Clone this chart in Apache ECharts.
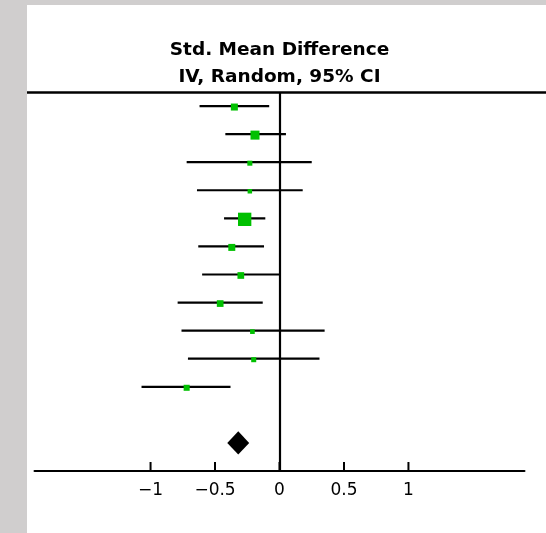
<!DOCTYPE html>
<html><head><meta charset="utf-8">
<script src="https://cdn.jsdelivr.net/npm/echarts@6/dist/echarts.min.js"></script>
<style>
html,body{margin:0;padding:0;background:#d0cece;width:546px;height:533px;overflow:hidden}
#chart{position:absolute;left:27px;top:5px;width:519px;height:528px;background:#ffffff}
</style></head><body><div id="chart"></div>
<script>
// Study rows (top to bottom)
const rows      = [0, 1, 2, 3, 4, 5, 6, 7, 8, 9, 10];
const estimates = [-0.35, -0.19, -0.23, -0.23, -0.27, -0.37, -0.30, -0.46, -0.21, -0.20, -0.72];
const lower     = [-0.62, -0.42, -0.72, -0.64, -0.43, -0.63, -0.60, -0.79, -0.76, -0.71, -1.07];
const upper     = [-0.08,  0.05,  0.25,  0.18, -0.11, -0.12,  0.00, -0.13,  0.35,  0.31, -0.38];
const weights   = [8.5, 14.1, 4.4, 3.5, 30.8, 8.5, 7.8, 7.8, 3.8, 4.4, 6.3];
// Pooled estimate (diamond)
const pooledRow = [12];
const pooledEst = [-0.32];
const pooledLo  = [-0.405];
const pooledHi  = [-0.235];
// Axis ticks
const xTicks = [-1, -0.5, 0, 0.5, 1];
const titleLines = ['Std. Mean Difference', 'IV, Random, 95% CI'];

const chart = echarts.init(document.getElementById('chart'), null, {renderer: 'canvas'});
const FONT = 'DejaVu Sans';
const AXIS_ROW = 13; // bottom of the plotting area (y axis max)

const ciData = rows.map(i => [lower[i], upper[i], i]);
const ptData = rows.map(i => [estimates[i], i, weights[i]]);
const dmData = pooledRow.map((r, k) => [pooledLo[k], pooledEst[k], pooledHi[k], r]);
const tickData = xTicks.map(t => [t, AXIS_ROW - 0.5]);

chart.setOption({
  animation: false,
  backgroundColor: '#ffffff',
  graphic: [
    {type: 'text', x: 252.5, y: 45.5, style: {text: titleLines[0], align: 'center', verticalAlign: 'middle', fontFamily: FONT, fontWeight: 'bold', fontSize: 18.5, fill: '#000'}},
    {type: 'text', x: 252.5, y: 72, style: {text: titleLines[1], align: 'center', verticalAlign: 'middle', fontFamily: FONT, fontWeight: 'bold', fontSize: 18.5, fill: '#000'}}
  ],
  grid: [
    {left: 7.5, right: 21.5, top: 87, bottom: 62},
    {left: 0, right: 0, top: 87, height: 20}
  ],
  xAxis: [
    {
      type: 'value', gridIndex: 0, min: -1.9, max: 1.9,
      splitLine: {show: false},
      axisLine: {show: true, onZero: false, lineStyle: {color: '#000', width: 2}},
      axisTick: {show: false},
      axisLabel: {
        show: true, margin: 11, color: '#000', fontFamily: FONT, fontSize: 17,
        customValues: xTicks.slice(),
        formatter: v => String(v).replace('-', '\u2212')
      }
    },
    {
      type: 'value', gridIndex: 1, position: 'top', min: 0, max: 1,
      splitLine: {show: false}, axisTick: {show: false}, axisLabel: {show: false},
      axisLine: {show: true, onZero: false, lineStyle: {color: '#000', width: 2.5}}
    }
  ],
  yAxis: [
    {type: 'value', gridIndex: 0, min: -0.5, max: AXIS_ROW, inverse: true, show: false},
    {type: 'value', gridIndex: 1, min: 0, max: 1, show: false}
  ],
  series: [
    {
      type: 'custom', xAxisIndex: 0, yAxisIndex: 0,
      data: ciData,
      encode: {x: [0, 1], y: 2},
      renderItem: (params, api) => {
        const a = api.coord([api.value(0), api.value(2)]);
        const b = api.coord([api.value(1), api.value(2)]);
        return {type: 'line', shape: {x1: a[0], y1: a[1], x2: b[0], y2: b[1]}, style: {stroke: '#000', lineWidth: 2.2}};
      },
      markLine: {
        silent: true, symbol: 'none', label: {show: false},
        lineStyle: {color: '#000', width: 2.2, type: 'solid'},
        data: [{xAxis: 0}]
      },
      z: 2
    },
    {
      // axis ticks: anchored inside the plot, drawn up from the axis line
      type: 'custom', xAxisIndex: 0, yAxisIndex: 0,
      data: tickData,
      encode: {x: 0, y: 1},
      clip: false,
      silent: true,
      renderItem: (params, api) => {
        const base = api.coord([api.value(0), AXIS_ROW]);
        return {type: 'rect', shape: {x: base[0] - 1, y: base[1] - 9, width: 2, height: 10}, style: {fill: '#000'}};
      },
      z: 10
    },
    {
      type: 'scatter', xAxisIndex: 0, yAxisIndex: 0,
      data: ptData,
      symbol: 'rect',
      symbolOffset: [0, 1],
      symbolSize: v => Math.sqrt(v[2]) * 2.4,
      itemStyle: {color: '#00c000', opacity: 1},
      z: 3
    },
    {
      type: 'custom', xAxisIndex: 0, yAxisIndex: 0,
      data: dmData,
      encode: {x: [0, 1, 2], y: 3},
      renderItem: (params, api) => {
        const r = api.value(3);
        const h = api.size([0, 1])[1] * 0.415;
        const l = api.coord([api.value(0), r]);
        const c = api.coord([api.value(1), r]);
        const rr = api.coord([api.value(2), r]);
        return {type: 'polygon', shape: {points: [[l[0], l[1]], [c[0], c[1] - h], [rr[0], rr[1]], [c[0], c[1] + h]]}, style: {fill: '#000'}};
      },
      z: 3
    }
  ]
});
</script></body></html>
